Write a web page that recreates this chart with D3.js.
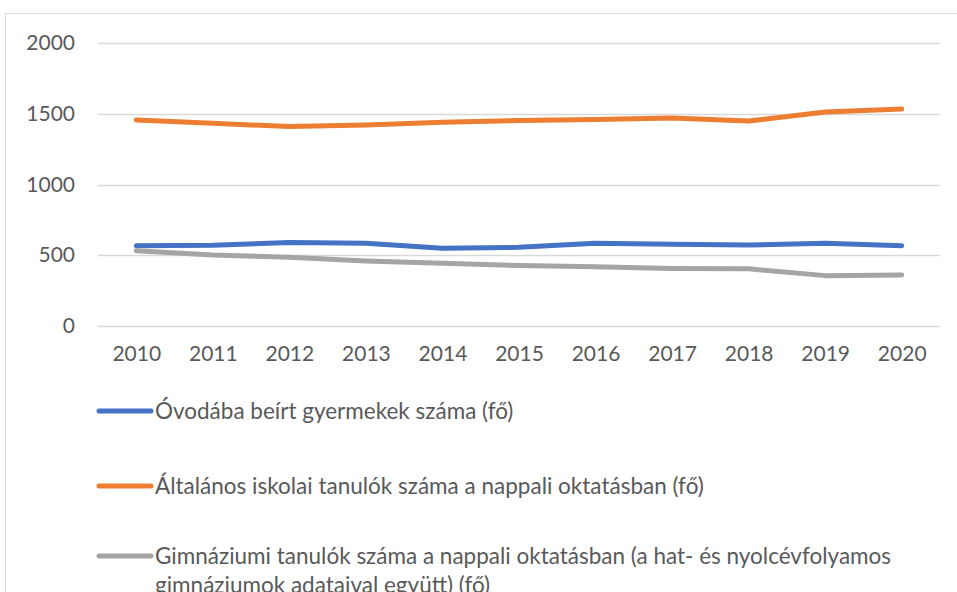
<!DOCTYPE html>
<html>
<head>
<meta charset="utf-8">
<script src="https://cdn.jsdelivr.net/npm/d3@7"></script>
<style>
  body { margin: 0; background: #fff; }
  svg { display: block; font-family: Lato, "Open Sans", sans-serif; }
</style>
</head>
<body>
<svg id="chart" width="957" height="592"></svg>
<script>
"use strict";

var years = [2010, 2011, 2012, 2013, 2014, 2015, 2016, 2017, 2018, 2019, 2020];
var yTicks = [0, 500, 1000, 1500, 2000];

var ovoda = [567, 570, 590, 585, 550, 556, 584, 578, 572, 584, 568];
var altalanos = [1456, 1432, 1410, 1420, 1440, 1452, 1460, 1470, 1449, 1512, 1533];
var gimnazium = [532, 502, 485, 459, 443, 428, 419, 406, 404, 356, 360];

var seriesNames = [
  "Óvodába beírt gyermekek száma (fő)",
  "Általános iskolai tanulók száma a nappali oktatásban (fő)",
  "Gimnáziumi tanulók száma a nappali oktatásban (a hat- és nyolcévfolyamos gimnáziumok adataival együtt) (fő)"
];
var seriesColors = ["#4472c4", "#ed7d31", "#a5a5a5"];

var series = [ovoda, altalanos, gimnazium].map(function (vals, i) {
  return { name: seriesNames[i], color: seriesColors[i], values: vals };
});

var svg = d3.select("#chart");

// chart area border (runs off the picture right and bottom)
svg.append("rect")
  .attr("x", 5.5).attr("y", 13.5)
  .attr("width", 1000).attr("height", 700)
  .attr("fill", "none")
  .attr("stroke", "#d9d9d9");

var x = d3.scalePoint()
  .domain(years)
  .range([98, 940])
  .padding(0.5);

var y = d3.scaleLinear()
  .domain([0, 2000])
  .range([326, 43]);

// gridlines
svg.append("g")
  .selectAll("line")
  .data(yTicks)
  .join("line")
    .attr("x1", 98).attr("x2", 940)
    .attr("y1", function (d) { return Math.round(y(d)) + 0.5; })
    .attr("y2", function (d) { return Math.round(y(d)) + 0.5; })
    .attr("stroke", "#d9d9d9")
    .attr("stroke-width", 1.3);

// y labels
var yAxis = d3.axisLeft(y).tickValues(yTicks).tickFormat(d3.format("d")).tickSize(0).tickPadding(0);
var gy = svg.append("g").attr("transform", "translate(75,0)").call(yAxis);
gy.select(".domain").remove();
gy.selectAll("text")
  .attr("fill", "#595959")
  .style("font-size", "21px")
  .style("font-family", "Lato, sans-serif");

// x labels
var xAxis = d3.axisBottom(x).tickSize(0).tickPadding(0);
var gx = svg.append("g").attr("transform", "translate(0,346)").call(xAxis);
gx.select(".domain").remove();
gx.selectAll("text")
  .attr("fill", "#595959")
  .style("font-size", "21px")
  .style("font-family", "Lato, sans-serif");

// lines
var line = d3.line()
  .x(function (d, i) { return x(years[i]); })
  .y(function (d) { return y(d); });

svg.append("g")
  .selectAll("path")
  .data(series)
  .join("path")
    .attr("d", function (s) { return line(s.values); })
    .attr("fill", "none")
    .attr("stroke", function (s) { return s.color; })
    .attr("stroke-width", 5)
    .attr("stroke-linecap", "round")
    .attr("stroke-linejoin", "round");

// legend
var legendY = [411, 486, 556];
var legend = svg.append("g")
  .selectAll("g")
  .data(series)
  .join("g")
    .attr("transform", function (s, i) { return "translate(0," + legendY[i] + ")"; });

legend.append("line")
  .attr("x1", 99).attr("x2", 151)
  .attr("stroke", function (s) { return s.color; })
  .attr("stroke-width", 5)
  .attr("stroke-linecap", "round");

legend.append("text")
  .attr("x", 155)
  .attr("y", 8)
  .attr("fill", "#595959")
  .style("font-size", "22.5px")
  .each(function (s) {
    wrap(d3.select(this), s.name, 770);
  });

function wrap(text, str, width) {
  var words = str.split(" ");
  var current = [];
  var tspan = text.append("tspan").attr("x", 155).attr("dy", 0);
  words.forEach(function (w) {
    current.push(w);
    tspan.text(current.join(" "));
    if (tspan.node().getComputedTextLength() > width && current.length > 1) {
      current.pop();
      tspan.text(current.join(" "));
      current = [w];
      tspan = text.append("tspan").attr("x", 155).attr("dy", 29).text(w);
    }
  });
}
</script>
</body>
</html>
